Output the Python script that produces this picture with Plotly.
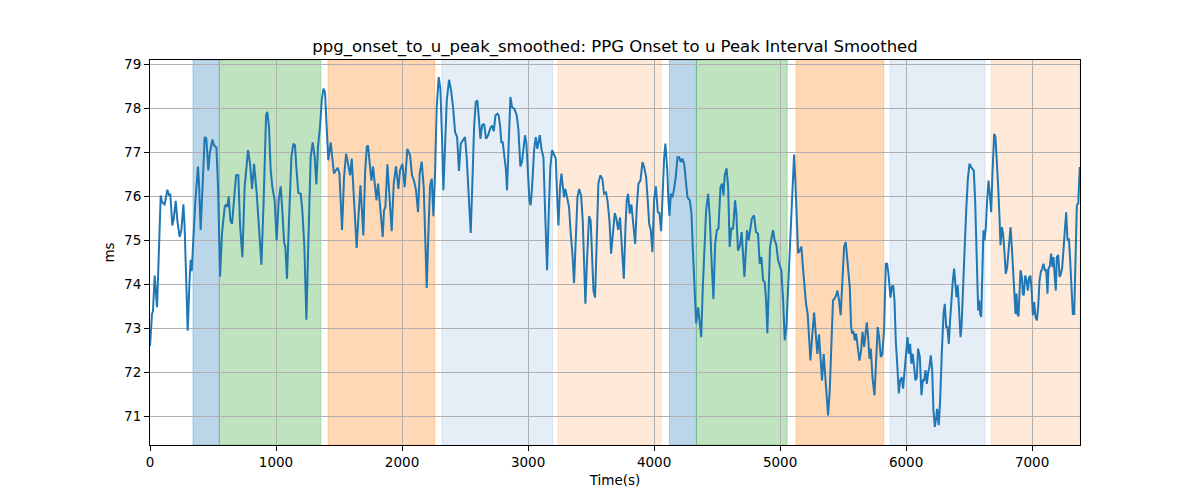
import plotly.graph_objects as go

time_s = [0, 16, 24, 37, 56, 85, 95, 116, 138, 151, 161, 177, 188, 204, 217, 235, 249, 265, 275, 299,
          315, 323, 331, 341, 360, 381, 389, 402, 413, 434, 447, 463, 474, 495, 508, 527, 540, 556, 571, 593,
          603, 614, 624, 638, 651, 667, 683, 701, 714, 733, 751, 778, 794, 810, 826, 847, 865, 884, 902, 921,
          931, 944, 958, 971, 989, 1005, 1021, 1037, 1050, 1064, 1074, 1087, 1103, 1122, 1138, 1151, 1161, 1177, 1196, 1209,
          1225, 1241, 1257, 1275, 1291, 1307, 1320, 1333, 1349, 1363, 1376, 1389, 1402, 1415, 1434, 1447, 1460, 1474, 1490, 1503,
          1524, 1540, 1556, 1572, 1588, 1601, 1619, 1640, 1654, 1670, 1680, 1693, 1707, 1720, 1730, 1746, 1757, 1770, 1783, 1797,
          1810, 1831, 1847, 1857, 1868, 1884, 1899, 1918, 1934, 1952, 1971, 1984, 2003, 2021, 2042, 2064, 2079, 2095, 2111, 2127,
          2140, 2156, 2172, 2185, 2196, 2209, 2222, 2236, 2249, 2262, 2275, 2291, 2304, 2318, 2328, 2341, 2355, 2373, 2389, 2405,
          2421, 2437, 2452, 2466, 2482, 2500, 2513, 2529, 2545, 2558, 2572, 2585, 2598, 2611, 2622, 2635, 2651, 2667, 2683, 2699,
          2714, 2728, 2741, 2757, 2767, 2778, 2788, 2799, 2812, 2825, 2833, 2847, 2860, 2873, 2892, 2910, 2923, 2931, 2939, 2952,
          2966, 2976, 2987, 2997, 3011, 3021, 3032, 3048, 3061, 3074, 3093, 3108, 3122, 3135, 3151, 3164, 3177, 3191, 3206, 3220,
          3230, 3241, 3254, 3265, 3275, 3286, 3296, 3312, 3325, 3339, 3352, 3365, 3378, 3392, 3405, 3421, 3434, 3445, 3455, 3468,
          3484, 3497, 3508, 3519, 3532, 3545, 3558, 3574, 3590, 3603, 3619, 3632, 3646, 3659, 3688, 3701, 3715, 3730, 3744, 3760,
          3773, 3783, 3794, 3807, 3820, 3834, 3850, 3863, 3876, 3892, 3908, 3921, 3937, 3950, 3961, 3974, 3987, 4000, 4014, 4030,
          4043, 4056, 4067, 4080, 4090, 4104, 4114, 4122, 4133, 4146, 4159, 4172, 4186, 4199, 4212, 4225, 4239, 4252, 4265, 4284,
          4297, 4307, 4321, 4334, 4350, 4363, 4374, 4387, 4400, 4413, 4429, 4442, 4456, 4471, 4485, 4498, 4511, 4527, 4540, 4551,
          4561, 4575, 4588, 4600, 4613, 4627, 4643, 4653, 4666, 4682, 4695, 4706, 4717, 4727, 4738, 4751, 4762, 4775, 4793, 4809,
          4825, 4838, 4852, 4865, 4878, 4889, 4899, 4910, 4920, 4934, 4944, 4957, 4971, 4984, 4997, 5010, 5024, 5037, 5050, 5063,
          5077, 5090, 5100, 5111, 5121, 5132, 5143, 5156, 5169, 5182, 5196, 5206, 5219, 5230, 5241, 5254, 5270, 5283, 5296, 5309,
          5323, 5333, 5346, 5357, 5368, 5381, 5394, 5407, 5420, 5431, 5444, 5455, 5468, 5481, 5495, 5508, 5521, 5534, 5553, 5564,
          5572, 5582, 5593, 5603, 5616, 5630, 5643, 5654, 5667, 5677, 5688, 5699, 5709, 5720, 5733, 5749, 5762, 5775, 5786, 5799,
          5812, 5826, 5839, 5849, 5860, 5876, 5886, 5897, 5908, 5918, 5931, 5942, 5953, 5966, 5976, 5990, 6000, 6011, 6021, 6032,
          6042, 6053, 6064, 6074, 6085, 6095, 6109, 6122, 6133, 6143, 6154, 6164, 6175, 6185, 6196, 6207, 6217, 6228, 6238, 6246,
          6259, 6270, 6283, 6297, 6307, 6318, 6328, 6339, 6349, 6360, 6371, 6381, 6392, 6400, 6410, 6421, 6432, 6440, 6450, 6463,
          6477, 6490, 6503, 6514, 6524, 6537, 6548, 6561, 6572, 6580, 6588, 6596, 6604, 6614, 6622, 6633, 6643, 6654, 6664, 6675,
          6686, 6699, 6709, 6720, 6731, 6741, 6749, 6760, 6770, 6781, 6791, 6802, 6815, 6829, 6839, 6850, 6860, 6868, 6876, 6884,
          6892, 6900, 6908, 6919, 6926, 6934, 6945, 6956, 6966, 6977, 6987, 6998, 7006, 7016, 7027, 7038, 7048, 7059, 7069, 7080,
          7090, 7101, 7112, 7122, 7130, 7141, 7151, 7162, 7170, 7178, 7188, 7196, 7207, 7218, 7228, 7239, 7249, 7260, 7270, 7281,
          7292, 7302, 7313, 7323, 7334, 7345, 7355, 7366, 7378]

interval_ms = [72.6, 73.33, 73.4, 74.2, 73.48, 76.02, 75.87, 75.82, 76.15, 76.02, 76.06, 75.34, 75.49, 75.9, 75.45, 75.08, 75.23, 75.82, 75.3, 72.95,
               74.17, 74.56, 74.3, 74.85, 75.91, 76.68, 76.29, 75.24, 75.91, 77.35, 77.31, 76.59, 76.97, 77.29, 77.16, 77.11, 76.21, 74.18, 75.15, 75.76,
               75.82, 75.76, 76.0, 75.45, 75.38, 75.98, 76.48, 76.48, 75.38, 74.62, 76.21, 77.05, 76.74, 76.17, 76.74, 76.06, 75.15, 74.45, 75.91, 77.84,
               77.92, 77.58, 76.59, 76.21, 75.91, 75.0, 75.91, 76.23, 75.68, 74.96, 74.85, 74.13, 75.45, 76.89, 77.2, 77.16, 76.67, 76.08, 76.06, 75.68,
               74.85, 73.2, 75.0, 76.89, 77.23, 76.89, 76.27, 77.12, 77.58, 78.18, 78.45, 78.37, 77.58, 76.82, 77.23, 76.89, 76.52, 76.59, 76.65, 76.52,
               75.24, 76.44, 76.97, 76.74, 76.48, 76.86, 75.91, 74.83, 75.53, 76.25, 75.76, 75.11, 76.55, 77.12, 77.16, 76.74, 76.36, 76.68, 76.36, 75.91,
               76.29, 75.68, 75.08, 75.68, 75.76, 76.73, 76.06, 75.21, 76.29, 76.68, 76.17, 76.59, 76.74, 76.21, 77.08, 76.93, 76.48, 76.36, 76.14, 75.64,
               76.52, 76.79, 76.21, 75.15, 73.92, 75.15, 76.23, 76.4, 75.55, 76.52, 78.03, 78.71, 78.45, 77.27, 76.14, 77.12, 78.18, 78.65, 78.41, 78.03,
               77.46, 77.35, 76.58, 77.2, 77.27, 77.35, 76.89, 76.06, 75.17, 76.29, 77.58, 78.14, 78.18, 77.73, 77.31, 77.61, 77.65, 77.31, 77.39, 77.54,
               77.61, 77.48, 77.84, 77.88, 77.84, 77.61, 77.23, 77.23, 76.97, 76.59, 76.14, 77.05, 78.26, 78.03, 77.99, 77.84, 77.54, 77.12, 76.68, 76.78,
               77.08, 77.39, 77.2, 76.59, 75.91, 75.8, 76.21, 77.05, 77.35, 77.08, 77.39, 77.05, 76.89, 75.68, 74.32, 75.61, 76.67, 77.05, 76.93, 76.86,
               76.06, 75.34, 76.21, 76.52, 76.25, 75.98, 76.17, 75.91, 75.76, 75.15, 74.7, 74.03, 75.15, 75.98, 76.17, 76.02, 75.45, 74.55, 73.56, 74.55,
               75.55, 75.45, 74.77, 73.86, 73.7, 74.92, 76.29, 76.48, 76.4, 76.06, 76.09, 75.87, 75.45, 74.7, 75.62, 75.49, 75.24, 75.52, 74.85, 74.13,
               75.3, 75.91, 76.06, 75.61, 75.82, 75.45, 74.92, 75.76, 76.29, 76.36, 76.78, 76.67, 76.44, 75.91, 75.38, 75.23, 74.73, 75.91, 76.23, 75.64,
               75.62, 75.21, 76.21, 76.89, 77.2, 76.64, 75.91, 75.56, 76.06, 75.98, 76.17, 76.44, 76.89, 76.89, 76.78, 76.86, 76.74, 76.29, 75.98, 75.91,
               75.61, 74.85, 73.94, 73.11, 73.48, 73.11, 72.8, 73.94, 74.92, 75.68, 76.06, 75.53, 74.55, 73.67, 74.92, 75.23, 75.27, 76.21, 76.29, 76.02,
               76.48, 76.64, 76.21, 74.85, 75.27, 75.27, 75.91, 75.61, 74.77, 74.89, 75.19, 74.7, 74.17, 74.7, 75.23, 75.0, 75.23, 75.49, 75.57, 75.19,
               75.15, 74.47, 74.62, 74.09, 74.05, 73.64, 72.89, 73.94, 74.85, 75.08, 75.23, 75.0, 74.89, 74.55, 74.43, 74.32, 73.64, 72.73, 73.03, 73.94,
               74.89, 75.68, 76.52, 76.95, 76.36, 75.53, 74.71, 74.77, 74.86, 74.36, 73.79, 73.56, 73.33, 72.65, 72.27, 72.8, 73.36, 72.88, 72.42, 72.86,
               72.27, 71.82, 72.42, 72.0, 71.44, 71.02, 71.59, 72.58, 73.64, 73.67, 73.75, 73.86, 73.64, 73.3, 74.24, 74.85, 74.96, 74.47, 73.94, 73.03,
               72.88, 72.94, 72.73, 72.88, 72.58, 72.27, 72.5, 72.92, 72.58, 72.92, 73.14, 72.8, 72.31, 72.54, 71.89, 71.48, 72.27, 73.03, 72.8, 72.35,
               72.42, 73.03, 74.47, 74.47, 74.24, 73.7, 73.94, 73.98, 73.64, 72.73, 72.12, 71.52, 71.82, 71.89, 71.63, 72.08, 72.5, 72.8, 72.42, 72.65,
               72.2, 72.42, 72.12, 71.82, 71.89, 72.54, 72.35, 71.48, 71.82, 71.82, 72.05, 71.74, 72.0, 72.12, 72.39, 72.05, 71.14, 70.76, 70.95, 71.17,
               70.8, 71.36, 72.42, 73.33, 73.56, 73.03, 73.03, 72.65, 73.18, 73.79, 74.09, 74.36, 74.02, 73.71, 73.98, 73.18, 72.8, 73.03, 73.64, 74.7,
               75.68, 76.4, 76.74, 76.67, 76.63, 76.59, 75.91, 74.55, 73.41, 73.64, 73.33, 73.26, 74.17, 75.23, 75.0, 75.3, 75.91, 76.36, 76.06, 75.64,
               76.59, 77.42, 77.35, 76.89, 76.21, 75.53, 74.89, 75.3, 75.15, 74.7, 74.24, 74.39, 74.85, 75.3, 74.85, 74.17, 73.48, 73.33, 73.79, 73.33,
               73.27, 73.79, 74.32, 74.17, 73.79, 73.75, 74.2, 74.09, 73.86, 74.17, 74.18, 73.79, 73.3, 73.6, 73.26, 73.18, 73.48, 74.09, 74.28, 74.36,
               74.47, 74.32, 74.32, 73.79, 74.36, 74.42, 74.7, 74.39, 74.62, 74.24, 73.86, 74.62, 74.67, 74.17, 74.24, 74.39, 74.85, 75.15, 75.64, 75.0,
               75.04, 74.55, 73.94, 73.33, 73.33, 74.7, 75.8, 75.84, 76.67]

# shaded phases: start, end, kind
span_start = [341, 550, 1413, 2317, 3238, 4122, 4336, 5127, 5873, 6675]
span_end = [550, 1355, 2259, 3196, 4056, 4336, 5056, 5823, 6627, 7378]
span_kind = ["blue", "green", "orange", "lightblue", "lightorange",
             "blue", "green", "orange", "lightblue", "lightorange"]

x_ticks = [0, 1000, 2000, 3000, 4000, 5000, 6000, 7000]
y_ticks = [71, 72, 73, 74, 75, 76, 77, 78, 79]

kind_color = {
    "blue": "rgba(31,119,180,0.30)",
    "green": "rgba(44,160,44,0.30)",
    "orange": "rgba(255,127,14,0.30)",
    "lightblue": "rgba(70,130,200,0.14)",
    "lightorange": "rgba(255,160,80,0.22)",
}

fig = go.Figure()

for s, e, k in zip(span_start, span_end, span_kind):
    fig.add_vrect(x0=s, x1=e, fillcolor=kind_color[k], line=dict(color=kind_color[k], width=1),
                  layer="below")

fig.add_trace(go.Scatter(x=time_s, y=interval_ms, mode="lines",
                         line=dict(color="#1f77b4", width=2), showlegend=False))

axis_common = dict(
    showgrid=True, gridcolor="#b0b0b0", gridwidth=1.1,
    showline=True, linecolor="black", linewidth=1.1, mirror=True,
    ticks="outside", ticklen=5, tickwidth=1.1, tickcolor="black",
    zeroline=False,
    tickfont=dict(family="DejaVu Sans", size=13.5, color="black"),
)

fig.update_xaxes(range=[0, 7380], tickvals=x_ticks, ticktext=[str(v) for v in x_ticks],
                 title=dict(text="Time(s)", font=dict(family="DejaVu Sans", size=13.5, color="black"), standoff=6),
                 **axis_common)
fig.update_yaxes(range=[70.35, 79.1], tickvals=y_ticks, ticktext=[str(v) for v in y_ticks],
                 title=dict(text="ms", font=dict(family="DejaVu Sans", size=13.5, color="black"), standoff=6),
                 **axis_common)

# the page body adds an 8px offset, so margins are shifted to land the plot area in place
fig.update_layout(
    width=1200, height=500,
    margin=dict(l=142, r=128, t=52, b=63),
    paper_bgcolor="white", plot_bgcolor="white",
    title=dict(text="ppg_onset_to_u_peak_smoothed: PPG Onset to u Peak Interval Smoothed",
               x=0.5, xref="paper", xanchor="center",
               y=1 - 38 / 500, yref="container", yanchor="middle",
               font=dict(family="DejaVu Sans", size=16.5, color="black")),
    font=dict(family="DejaVu Sans"),
)

fig.write_html("out.html")
